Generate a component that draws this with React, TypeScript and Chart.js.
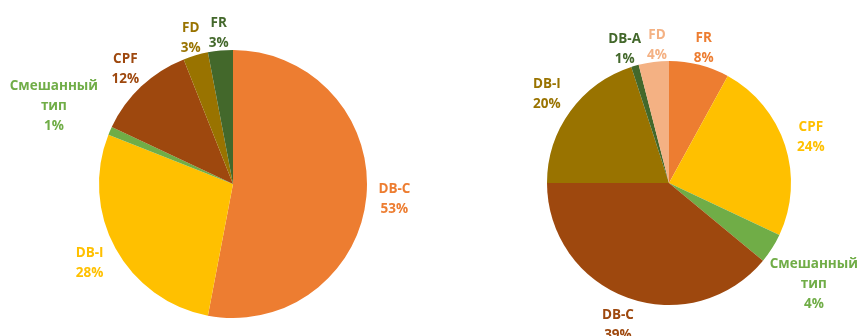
import React, { useEffect, useRef } from "react";
import { Chart, registerables } from "chart.js";

Chart.register(...registerables);

// Left pie
const leftCategories = ["DB-C", "DB-I", "Смешанный\nтип", "CPF", "FD", "FR"];
const leftValues = [53, 28, 1, 12, 3, 3];
const leftLabels = ["53%", "28%", "1%", "12%", "3%", "3%"];
const leftColors = ["#ED7D31", "#FFC000", "#70AD47", "#9E480E", "#997300", "#43682B"];

// Right pie
const rightCategories = ["FR", "CPF", "Смешанный\nтип", "DB-C", "DB-I", "DB-A", "FD"];
const rightValues = [8, 24, 4, 39, 20, 1, 4];
const rightLabels = ["8%", "24%", "4%", "39%", "20%", "1%", "4%"];
const rightColors = ["#ED7D31", "#FFC000", "#70AD47", "#9E480E", "#997300", "#43682B", "#F4B183"];

const FONT = "bold 13.5px 'Open Sans', sans-serif";
const LINE_H = 20;

const labelPlugin = {
  id: "outsideLabels",
  afterDatasetsDraw(chart: any) {
    const ctx = chart.ctx;
    const meta = chart.getDatasetMeta(0);
    const cats: string[] = chart.data.labels;
    const opts = chart.options.plugins.outsideLabels;
    const pcts: string[] = opts.pcts;
    const colors: string[] = chart.data.datasets[0].backgroundColor;
    ctx.save();
    ctx.font = FONT;
    ctx.textAlign = "center";
    ctx.textBaseline = "middle";
    const boxes: any[] = [];
    meta.data.forEach((arc: any, i: number) => {
      const p = arc.getProps(["x", "y", "startAngle", "endAngle", "outerRadius"], true);
      const mid = (p.startAngle + p.endAngle) / 2;
      const c = Math.cos(mid);
      const s = Math.sin(mid);
      const lines = cats[i].split("\n").concat([pcts[i]]);
      let w = 0;
      lines.forEach((l) => (w = Math.max(w, ctx.measureText(l).width)));
      const textHH = ((lines.length - 1) * LINE_H + 10) / 2;
      const hw = w / 2 + opts.padX;
      const hh = textHH + (s > 0 ? opts.padBelow : opts.padAbove);
      const ex = Math.abs(c) > 1e-6 ? hw / Math.abs(c) : Infinity;
      const ey = Math.abs(s) > 1e-6 ? hh / Math.abs(s) : Infinity;
      const e = Math.min(ex, ey);
      const dist = p.outerRadius + e;
      let cx = p.x + c * dist;
      const cy = p.y + s * dist;
      cx = Math.min(cx, chart.width - w / 2);
      cx = Math.max(cx, w / 2);
      boxes.push({ cx, cy, tw: w / 2, th: textHH, lines, color: colors[i] });
    });
    // simple horizontal collision resolution
    for (let iter = 0; iter < 5; iter++) {
      for (let a = 0; a < boxes.length; a++) {
        for (let b = a + 1; b < boxes.length; b++) {
          const A = boxes[a];
          const B = boxes[b];
          const need = A.tw + B.tw + 6;
          const dx = B.cx - A.cx;
          if (Math.abs(dx) < need && Math.abs(B.cy - A.cy) < A.th + B.th) {
            const shift = (need - Math.abs(dx)) / 2;
            const sign = dx >= 0 ? 1 : -1;
            A.cx -= sign * shift;
            B.cx += sign * shift;
          }
        }
      }
    }
    boxes.forEach((bx) => {
      ctx.fillStyle = bx.color;
      const top = bx.cy - ((bx.lines.length - 1) * LINE_H) / 2;
      bx.lines.forEach((l: string, k: number) => ctx.fillText(l, bx.cx, top + k * LINE_H));
    });
    ctx.restore();
  },
};

function PieCanvas(props: {
  cats: string[];
  values: number[];
  pcts: string[];
  colors: string[];
  padding: { left: number; right: number; top: number; bottom: number };
  left: number;
  width: number;
}) {
  const ref = useRef<HTMLCanvasElement>(null);
  useEffect(() => {
    const chart = new Chart(ref.current as HTMLCanvasElement, {
      type: "pie",
      data: {
        labels: props.cats,
        datasets: [
          {
            data: props.values,
            backgroundColor: props.colors,
            borderWidth: 0,
          },
        ],
      },
      options: {
        animation: false,
        responsive: false,
        layout: { padding: props.padding },
        plugins: {
          legend: { display: false },
          tooltip: { enabled: false },
          outsideLabels: { pcts: props.pcts, padX: 12, padAbove: 2, padBelow: 12 },
        } as any,
      },
      plugins: [labelPlugin],
    });
    return () => chart.destroy();
  }, []);
  return (
    <canvas
      ref={ref}
      width={props.width}
      height={336}
      style={{ position: "absolute", left: props.left, top: 0, width: props.width, height: 336 }}
    />
  );
}

export default function App() {
  useEffect(() => {
    document.body.style.margin = "0";
    document.body.style.background = "#ffffff";
  }, []);
  return (
    <div style={{ position: "relative", width: 858, height: 336, overflow: "hidden", background: "#fff" }}>
      <PieCanvas
        cats={leftCategories}
        values={leftValues}
        pcts={leftLabels}
        colors={leftColors}
        left={0}
        width={440}
        padding={{ left: 99, right: 73, top: 50, bottom: 18 }}
      />
      <PieCanvas
        cats={rightCategories}
        values={rightValues}
        pcts={rightLabels}
        colors={rightColors}
        left={440}
        width={418}
        padding={{ left: 107, right: 67, top: 61, bottom: 31 }}
      />
    </div>
  );
}
